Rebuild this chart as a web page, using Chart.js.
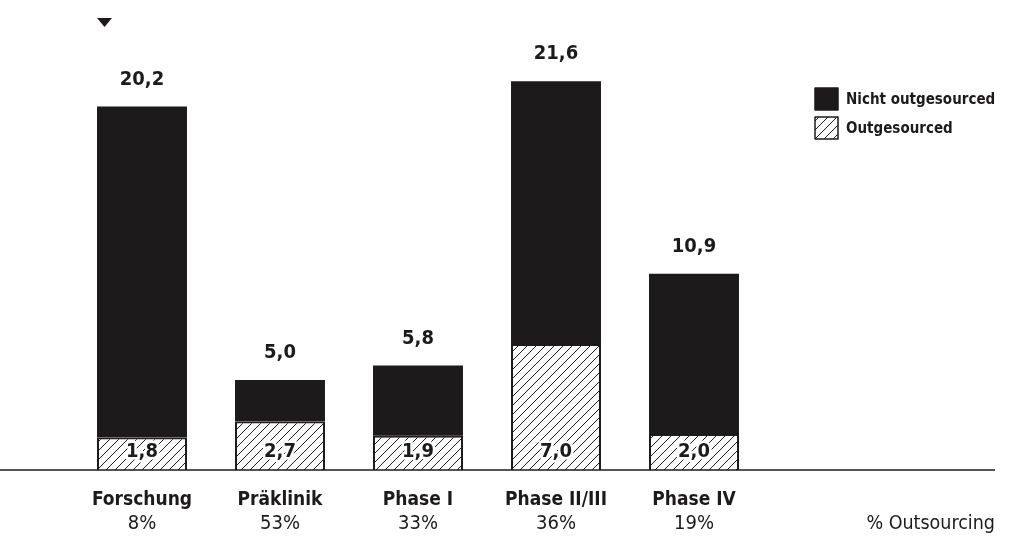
<!DOCTYPE html>
<html>
<head>
<meta charset="UTF-8">
<title>Outsourcing</title>
<script src="https://cdn.jsdelivr.net/npm/chart.js"></script>
<style>
  html, body { margin: 0; padding: 0; background: #fff; }
  .wrap { position: relative; width: 1009px; height: 558px; }
</style>
</head>
<body>
<div class="wrap"><canvas id="c" width="1009" height="558"></canvas></div>
<script>
const categories = ['Forschung', 'Präklinik', 'Phase I', 'Phase II/III', 'Phase IV'];
const percentLabels = ['8%', '53%', '33%', '36%', '19%'];
const totals = [20.2, 5.0, 5.8, 21.6, 10.9];
const outsourced = [1.8, 2.7, 1.9, 7.0, 2.0];
const notOutsourced = totals.map((t, i) => +(t - outsourced[i]).toFixed(1));

const FONT = '"DejaVu Sans Condensed", "Liberation Sans Narrow", "Arial Narrow", sans-serif';
const INK = '#1c1a1a';

// schraffur für "Outgesourced"
function hatch() {
  const s = 9;
  const p = document.createElement('canvas');
  p.width = s; p.height = s;
  const g = p.getContext('2d');
  g.fillStyle = '#fff';
  g.fillRect(0, 0, s, s);
  g.strokeStyle = INK;
  g.lineWidth = 1;
  g.beginPath();
  g.moveTo(0, s); g.lineTo(s, 0);
  g.moveTo(-s / 2, s / 2); g.lineTo(s / 2, -s / 2);
  g.moveTo(s / 2, s * 1.5); g.lineTo(s * 1.5, s / 2);
  g.stroke();
  return g.createPattern(p, 'repeat');
}
const hatchFill = hatch();

const fmt = v => v.toFixed(1).replace('.', ',');

const decor = {
  id: 'decor',
  afterDatasetsDraw(chart) {
    const ctx = chart.ctx;
    const y0 = chart.scales.y.getPixelForValue(0);
    ctx.save();
    // grundlinie
    ctx.strokeStyle = INK;
    ctx.lineWidth = 1.5;
    ctx.beginPath();
    ctx.moveTo(0, y0); ctx.lineTo(995, y0);
    ctx.stroke();

    // werte
    ctx.textAlign = 'center';
    ctx.textBaseline = 'middle';
    ctx.font = 'bold 20px ' + FONT;
    const lower = chart.getDatasetMeta(0).data;
    const upper = chart.getDatasetMeta(1).data;
    upper.forEach((bar, i) => {
      ctx.fillStyle = INK;
      ctx.fillText(fmt(totals[i]), bar.x, bar.y - 27);
    });
    lower.forEach((bar, i) => {
      ctx.lineJoin = 'round';
      ctx.strokeStyle = '#fff';
      ctx.lineWidth = 5;
      ctx.strokeText(fmt(outsourced[i]), bar.x, y0 - 18);
      ctx.fillStyle = INK;
      ctx.fillText(fmt(outsourced[i]), bar.x, y0 - 18);
    });

    // legende
    const items = [
      { label: chart.data.datasets[1].label, fill: INK },
      { label: chart.data.datasets[0].label, fill: hatchFill }
    ];
    ctx.textAlign = 'left';
    ctx.font = 'bold 15px ' + FONT;
    items.forEach((it, k) => {
      const ly = 88 + k * 29;
      ctx.fillStyle = it.fill;
      ctx.fillRect(815, ly, 23, 22);
      ctx.strokeStyle = INK;
      ctx.lineWidth = 1.5;
      ctx.strokeRect(815, ly, 23, 22);
      ctx.fillStyle = INK;
      ctx.fillText(it.label, 846, ly + 12);
    });

    // % Outsourcing
    ctx.textAlign = 'right';
    ctx.font = '19.5px ' + FONT;
    ctx.fillText('% Outsourcing', 995, 524);

    // marker oben links
    ctx.fillStyle = INK;
    ctx.beginPath();
    ctx.moveTo(97, 18); ctx.lineTo(112, 18); ctx.lineTo(104.5, 27);
    ctx.closePath();
    ctx.fill();
    ctx.restore();
  }
};

new Chart(document.getElementById('c'), {
  type: 'bar',
  data: {
    labels: categories,
    datasets: [
      {
        label: 'Outgesourced',
        data: outsourced,
        backgroundColor: hatchFill,
        borderColor: INK,
        borderWidth: 2,
        borderSkipped: 'bottom'
      },
      {
        label: 'Nicht outgesourced',
        data: notOutsourced,
        backgroundColor: INK,
        borderColor: INK,
        borderWidth: 0
      }
    ]
  },
  options: {
    responsive: false,
    animation: false,
    layout: { padding: { left: 73, right: 246, top: 38, bottom: 18 } },
    datasets: { bar: { categoryPercentage: 1, barPercentage: 0.652 } },
    plugins: { legend: { display: false }, tooltip: { enabled: false } },
    scales: {
      x: {
        stacked: true,
        grid: { display: false, drawTicks: false },
        border: { display: false },
        afterFit: s => { s.height = 42; },
        ticks: { padding: 19, color: INK, font: { family: FONT, size: 19, weight: 'bold' } }
      },
      x2: {
        type: 'category',
        labels: percentLabels,
        position: 'bottom',
        grid: { display: false, drawTicks: false },
        border: { display: false },
        afterFit: s => { s.height = 28; },
        ticks: { padding: 0, color: INK, font: { family: FONT, size: 20 } }
      },
      y: {
        stacked: true,
        display: false,
        min: 0,
        max: 24
      }
    }
  },
  plugins: [decor]
});
</script>
</body>
</html>
